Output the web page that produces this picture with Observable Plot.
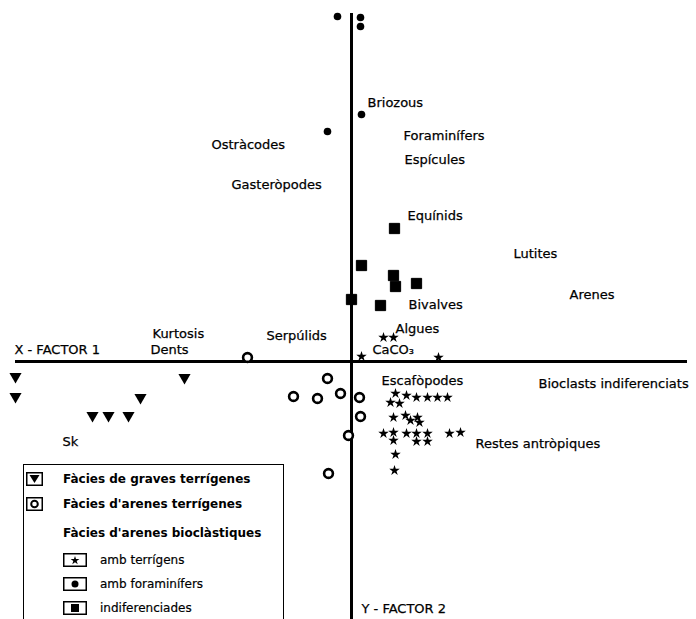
<!DOCTYPE html>
<html>
<head>
<meta charset="utf-8">
<script src="https://cdn.jsdelivr.net/npm/d3@7"></script>
<script src="https://cdn.jsdelivr.net/npm/@observablehq/plot@0.6"></script>
<style>
  html, body { margin: 0; padding: 0; background: #fff; }
  #wrap { position: relative; width: 696px; height: 619px; overflow: hidden; font-family: "DejaVu Sans", sans-serif; color: #000; }
  #legend { position: absolute; left: 23px; top: 464px; width: 261px; height: 160px; border: 1.6px solid #000; border-bottom: none; box-sizing: border-box; }
  .row { position: absolute; left: 0; height: 16px; display: flex; align-items: center; white-space: nowrap; }
  .row svg { display: block; }
  .bold { font-weight: bold; font-size: 12px; }
  .norm { font-size: 12px; -webkit-text-stroke: 0.2px #000; }
</style>
</head>
<body>
<div id="wrap">
  <div id="chart"></div>
  <div id="legend"></div>
</div>
<script>
// ---- Data (factor-plane coordinates) ----
// Fàcies de graves terrígenes (inverted triangles)
const gravesX = [-3.36, -3.36, -1.67, -2.11, -2.59, -2.43, -2.23];
const gravesY = [-0.15, -0.35, -0.16, -0.36, -0.54, -0.54, -0.54];
// Fàcies d'arenes terrígenes (open circles)
const arenesTerrX = [-1.04, -0.24, -0.58, -0.34, -0.11, 0.08, 0.09, -0.03, -0.23];
const arenesTerrY = [0.04, -0.17, -0.35, -0.37, -0.32, -0.36, -0.55, -0.74, -1.12];
// Bioclàstiques amb foraminífers (filled circles)
const foramX = [-0.14, 0.09, 0.09, 0.10, -0.24];
const foramY = [3.45, 3.44, 3.35, 2.47, 2.30];
// Bioclàstiques indiferenciades (filled squares)
const indifX = [0.43, 0.10, 0.42, 0.44, 0.65, 0.00, 0.29];
const indifY = [1.33, 0.96, 0.86, 0.75, 0.78, 0.62, 0.56];
// Bioclàstiques amb terrígens (stars)
const terrX = [0.10, 0.87, 0.32, 0.42,
  0.44, 0.55, 0.65, 0.76, 0.86, 0.96, 0.39, 0.48,
  0.42, 0.54, 0.59, 0.66, 0.68,
  0.32, 0.42, 0.42, 0.55, 0.65, 0.65, 0.76, 0.76, 0.98, 1.09,
  0.44, 0.43];
const terrY = [0.05, 0.04, 0.24, 0.24,
  -0.32, -0.34, -0.36, -0.36, -0.36, -0.36, -0.41, -0.42,
  -0.56, -0.54, -0.59, -0.56, -0.61,
  -0.72, -0.71, -0.79, -0.72, -0.72, -0.80, -0.72, -0.80, -0.72, -0.71,
  -0.93, -1.09];
// Variable labels
const varNames = ["Briozous", "Foraminífers", "Espícules", "Ostràcodes", "Gasteròpodes", "Equínids",
  "Lutites", "Arenes", "Bivalves", "Algues", "CaCO₃", "Kurtosis", "Dents", "Serpúlids", "Sk",
  "Escafòpodes", "Bioclasts indiferenciats", "Restes antròpiques"];
const varX = [0.16, 0.52, 0.53, -1.40, -1.20, 0.56, 1.62, 2.18, 0.57, 0.44, 0.21, -1.99, -2.01, -0.85, -2.89, 0.30, 1.87, 1.24];
const varY = [2.59, 2.26, 2.02, 2.17, 1.77, 1.46, 1.08, 0.67, 0.57, 0.33, 0.12, 0.28, 0.12, 0.26, -0.80, -0.19, -0.22, -0.82];
// Axis titles and extents
const axisTitles = ["X - FACTOR 1", "Y - FACTOR 2"];
const axisTitleX = [-3.37, 0.10];
const axisTitleY = [0.12, -2.47];
const xAxisExtent = [-3.36, 3.36];
const yAxisExtent = [-2.60, 3.48];
// Legend
const legendLabels = ["Fàcies de graves terrígenes", "Fàcies d'arenes terrígenes", "Fàcies d'arenes bioclàstiques",
  "amb terrígens", "amb foraminífers", "indiferenciades"];

const zip = (xs, ys) => xs.map((x, i) => ({x, y: ys[i]}));
const graves = zip(gravesX, gravesY);
const arenesTerr = zip(arenesTerrX, arenesTerrY);
const foram = zip(foramX, foramY);
const indif = zip(indifX, indifY);
const terr = zip(terrX, terrY);
const vars = varNames.map((t, i) => ({t, x: varX[i], y: varY[i]}));
const titles = axisTitles.map((t, i) => ({t, x: axisTitleX[i], y: axisTitleY[i]}));

const chart = Plot.plot({
  width: 696,
  height: 619,
  margin: 0,
  x: {domain: [-3.51, 3.45], axis: null},
  y: {domain: [-2.58, 3.61], axis: null},
  style: {fontFamily: "DejaVu Sans, sans-serif", background: "#fff", color: "#000"},
  marks: [
    Plot.ruleY([0], {x1: xAxisExtent[0], x2: xAxisExtent[1], stroke: "#000", strokeWidth: 3}),
    Plot.ruleX([0], {y1: yAxisExtent[0], y2: yAxisExtent[1], stroke: "#000", strokeWidth: 3}),
    Plot.dot(graves, {x: "x", y: "y", symbol: "triangle", r: 4.5, rotate: 180, fill: "#000", stroke: "none"}),
    Plot.dot(arenesTerr, {x: "x", y: "y", symbol: "circle", r: 4.4, fill: "#fff", stroke: "#000", strokeWidth: 2.6}),
    Plot.dot(foram, {x: "x", y: "y", symbol: "circle", r: 3.8, fill: "#000", stroke: "none"}),
    Plot.dot(indif, {x: "x", y: "y", symbol: "square", r: 5.8, fill: "#000", stroke: "#000", strokeWidth: 1, strokeLinejoin: "round"}),
    Plot.dot(terr, {x: "x", y: "y", symbol: "star", r: 3.3, fill: "#000", stroke: "none"}),
    Plot.text(vars, {x: "x", y: "y", text: "t", textAnchor: "start", fontSize: 13, fill: "#000", stroke: "#000", strokeWidth: 0.25}),
    Plot.text(titles, {x: "x", y: "y", text: "t", textAnchor: "start", fontSize: 13, fill: "#000", stroke: "#000", strokeWidth: 0.25})
  ]
});
document.getElementById("chart").appendChild(chart);

// ---- Legend (HTML overlay) ----
const boxStar = `<path transform="translate(12,7.5)" d="${d3.symbol(d3.symbolStar, 24)()}" fill="#000"/>`;
const icons = [
  `<svg width="17" height="14"><rect x="0.75" y="0.75" width="15.5" height="12.5" fill="#fff" stroke="#000" stroke-width="1.5"/><path d="M3.5,3 L13.5,3 L8.5,11 Z" fill="#000"/></svg>`,
  `<svg width="17" height="14"><rect x="0.75" y="0.75" width="15.5" height="12.5" fill="#fff" stroke="#000" stroke-width="1.5"/><circle cx="8.5" cy="7" r="3.3" fill="none" stroke="#000" stroke-width="2"/></svg>`,
  null,
  `<svg width="24" height="14"><rect x="0.75" y="0.75" width="22.5" height="12.5" fill="#fff" stroke="#000" stroke-width="1.5"/>${boxStar}</svg>`,
  `<svg width="24" height="14"><rect x="0.75" y="0.75" width="22.5" height="12.5" fill="#fff" stroke="#000" stroke-width="1.5"/><circle cx="12" cy="7" r="3.5" fill="#000"/></svg>`,
  `<svg width="24" height="14"><rect x="0.75" y="0.75" width="22.5" height="12.5" fill="#fff" stroke="#000" stroke-width="1.5"/><rect x="8" y="3" width="8" height="8" fill="#000"/></svg>`
];

const rowTop = [6, 31, 60, 87, 111, 135];
const iconLeft = [2, 2, null, 39, 39, 39];
const textLeft = [39, 39, 39, 76, 76, 76];
const legend = document.getElementById("legend");
legendLabels.forEach((lab, i) => {
  if (icons[i]) {
    const ic = document.createElement("div");
    ic.className = "row";
    ic.style.top = rowTop[i] + "px";
    ic.style.left = iconLeft[i] + "px";
    ic.innerHTML = icons[i];
    legend.appendChild(ic);
  }
  const tx = document.createElement("div");
  tx.className = "row " + (i < 3 ? "bold" : "norm");
  tx.style.top = rowTop[i] + "px";
  tx.style.left = textLeft[i] + "px";
  tx.textContent = lab;
  legend.appendChild(tx);
});
</script>
</body>
</html>
